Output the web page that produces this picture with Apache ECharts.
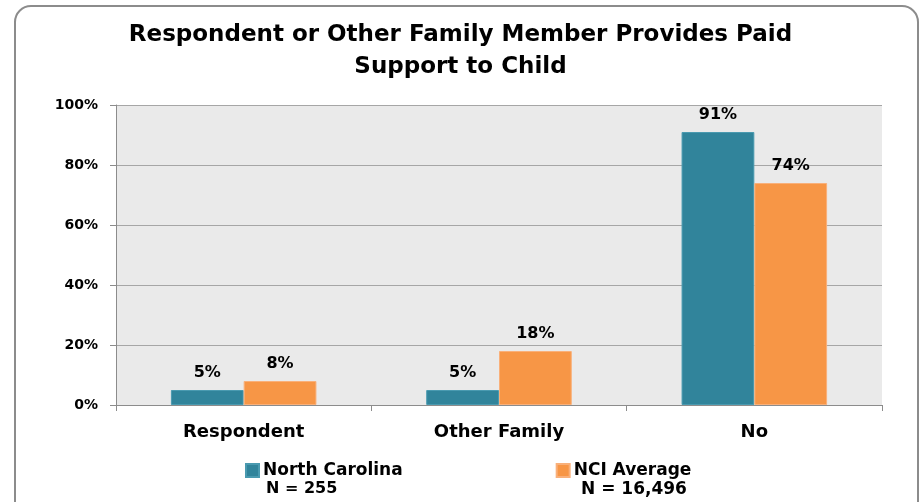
<!DOCTYPE html>
<html><head><meta charset="utf-8">
<script src="https://cdn.jsdelivr.net/npm/echarts@6/dist/echarts.min.js"></script>
<style>html,body{margin:0;padding:0;background:#fff}#c{width:921px;height:502px}</style>
</head><body><div id="c"></div>
<script>
const categories = ['Respondent', 'Other Family', 'No'];
const northCarolina = [5, 5, 91];
const nciAverage = [8, 18, 74];
const seriesNames = ['North Carolina', 'NCI Average'];
const sampleSizes = ['N = 255', 'N = 16,496'];
const yTicks = [0, 20, 40, 60, 80, 100];
const titleText = 'Respondent or Other Family Member Provides Paid\nSupport to Child';

const FONT = '"DejaVu Sans", sans-serif';
const chart = echarts.init(document.getElementById('c'));
chart.setOption({
  animation: false,
  backgroundColor: '#fff',
  title: {
    text: titleText, left: 'center', top: 14, padding: [5, 0, 5, 12],
    textStyle: {fontFamily: FONT, fontWeight: 'bold', fontSize: 23, color: '#000', lineHeight: 32}
  },
  grid: {left: 116, right: 39, top: 105, bottom: 97, show: true, backgroundColor: '#EAEAEA', borderWidth: 0},
  legend: {
    data: seriesNames, left: 240, top: 457, itemGap: 153, itemWidth: 13, itemHeight: 13, icon: 'rect',
    textStyle: {fontFamily: FONT, fontWeight: 'bold', fontSize: 17, color: '#000', padding: [0,0,0,-1]}
  },
  graphic: [
    {type: 'rect', shape: {x: 15, y: 6, width: 903, height: 540, r: 16}, style: {fill: 'none', stroke: '#8c8c8c', lineWidth: 2}, silent: true},
    {type: 'text', left: 266, top: 481, style: {text: sampleSizes[0], font: 'bold 16px ' + FONT, fill: '#000'}},
    {type: 'text', left: 581, top: 481, style: {text: sampleSizes[1], font: 'bold 17px ' + FONT, fill: '#000'}}
  ],
  xAxis: {
    type: 'category', data: categories,
    axisLine: {lineStyle: {color: '#8c8c8c', width: 1}},
    axisTick: {show: true, length: 6, lineStyle: {color: '#8c8c8c'}},
    axisLabel: {fontFamily: FONT, fontWeight: 'bold', fontSize: 18, color: '#000', margin: 18}
  },
  yAxis: {
    type: 'value', min: yTicks[0], max: yTicks[yTicks.length - 1], interval: 20,
    axisLine: {show: true, lineStyle: {color: '#8c8c8c'}},
    axisTick: {show: true, length: 6, lineStyle: {color: '#8c8c8c'}},
    splitLine: {lineStyle: {color: '#a6a6a6', width: 1}},
    axisLabel: {formatter: '{value}%', fontFamily: FONT, fontWeight: 'bold', fontSize: 14, color: '#000', margin: 18}
  },
  series: [
    {name: seriesNames[0], type: 'bar', data: northCarolina, barGap: '0%', barCategoryGap: '43%',
     itemStyle: {color: '#31849B', borderColor: '#4a9ab0', borderWidth: 1},
     label: {show: true, position: 'top', distance: 9, formatter: '{c}%', fontFamily: FONT, fontWeight: 'bold', fontSize: 16, color: '#000'}},
    {name: seriesNames[1], type: 'bar', data: nciAverage,
     itemStyle: {color: '#F79646', borderColor: '#f9b07a', borderWidth: 1},
     label: {show: true, position: 'top', distance: 9, formatter: '{c}%', fontFamily: FONT, fontWeight: 'bold', fontSize: 16, color: '#000'}}
  ]
});
</script></body></html>
